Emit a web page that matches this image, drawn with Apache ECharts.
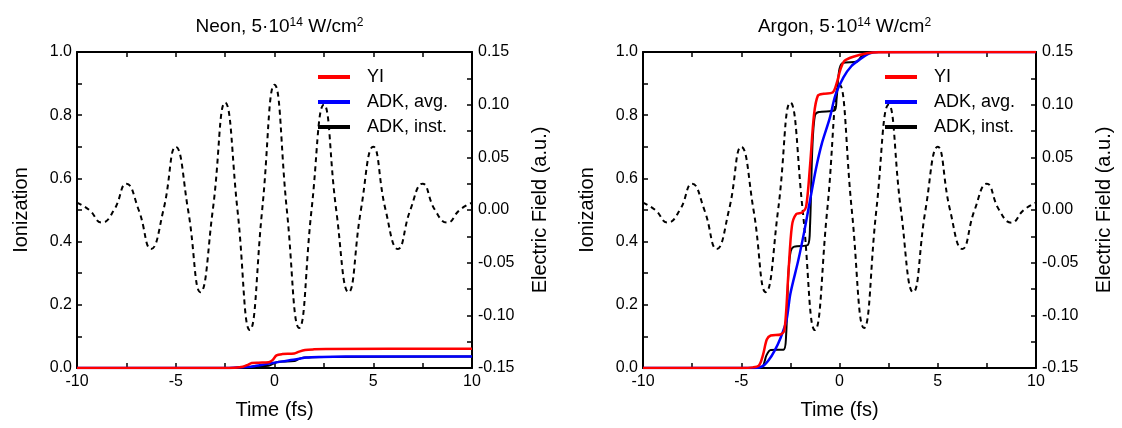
<!DOCTYPE html>
<html>
<head>
<meta charset="utf-8">
<script src="https://cdn.jsdelivr.net/npm/echarts@6/dist/echarts.min.js"></script>
<style>
  html, body { margin: 0; padding: 0; background: #ffffff; }
  #chart { width: 1122px; height: 428px; }
</style>
</head>
<body>
<div id="chart"></div>
<script>
// Panel titles and legend entries
const panelGas = ['Neon', 'Argon'];
const seriesNames = ['YI', 'ADK, avg.', 'ADK, inst.'];

// Axis ranges / tick spacing
const timeRange = [-10, 10, 5];
const ionRange = [0, 1, 0.2];
const fieldRange = [-0.15, 0.15, 0.05];

// Laser electric field (a.u.) vs time (fs), same pulse in both panels
const fieldTime = [-10, -9.375, -8.75, -8.125, -7.5, -6.875, -6.25, -5.625, -5, -4.375, -3.75, -3.125,
  -2.5, -1.875, -1.25, -0.625, 0, 0.625, 1.25, 1.875, 2.5, 3.125, 3.75, 4.375, 5, 5.625, 6.25, 6.875,
  7.5, 8.125, 8.75, 9.375, 10];
const fieldValue = [0.007, 0, -0.012, 0, 0.025, 0, -0.037, 0, 0.060, 0, -0.078, 0,
  0.102, 0, -0.114, 0, 0.119, 0, -0.112, 0, 0.100, 0, -0.078, 0, 0.060, 0, -0.037, 0,
  0.025, 0, -0.012, 0, 0.007];

// Neon ionization [time, fraction]
const neonYI = [[-10, 0], [-2.6, 0], [-2.0, 0.001], [-1.6, 0.004], [-1.35, 0.010], [-1.15, 0.016],
  [-0.8, 0.017], [-0.3, 0.018], [-0.1, 0.025], [0.1, 0.040], [0.4, 0.044], [1.0, 0.046],
  [1.25, 0.052], [1.55, 0.057], [2.0, 0.059], [2.6, 0.060], [10, 0.061]];
const neonAvg = [[-10, 0], [-2.4, 0], [-1.8, 0.002], [-1.1, 0.005], [-0.6, 0.010], [-0.1, 0.016],
  [0.4, 0.021], [0.95, 0.026], [1.6, 0.033], [2.4, 0.035], [3.6, 0.036], [10, 0.036]];
const neonInst = [[-10, 0], [-1.6, 0], [-1.25, 0.003], [-1.0, 0.006], [-0.3, 0.007], [-0.05, 0.014],
  [0.2, 0.020], [1.0, 0.022], [1.25, 0.029], [1.5, 0.033], [2.5, 0.035], [10, 0.036]];

// Argon ionization [time, fraction]
const argonYI = [[-10, 0], [-5.0, 0], [-4.4, 0.002], [-4.1, 0.008], [-3.9, 0.04], [-3.7, 0.09],
  [-3.5, 0.103], [-3.0, 0.106], [-2.8, 0.12], [-2.6, 0.30], [-2.42, 0.45], [-2.2, 0.487],
  [-1.9, 0.492], [-1.7, 0.51], [-1.5, 0.64], [-1.3, 0.80], [-1.1, 0.862], [-0.8, 0.868],
  [-0.35, 0.872], [-0.15, 0.90], [0.05, 0.945], [0.25, 0.972], [0.7, 0.985], [1.4, 0.996],
  [2.0, 0.999], [10, 1.0]];
const argonAvg = [[-10, 0], [-4.3, 0], [-3.9, 0.006], [-3.6, 0.025], [-3.3, 0.055], [-3.0, 0.095],
  [-2.7, 0.15], [-2.5, 0.235], [-2.1, 0.34], [-1.8, 0.43], [-1.5, 0.53], [-1.2, 0.63],
  [-0.9, 0.71], [-0.5, 0.79], [-0.2, 0.865], [0.2, 0.92], [0.6, 0.955], [1.0, 0.975],
  [1.5, 0.995], [2.0, 1.0], [10, 1.0]];
const argonInst = [[-10, 0], [-4.2, 0], [-3.9, 0.006], [-3.72, 0.04], [-3.5, 0.057], [-2.85, 0.058],
  [-2.72, 0.10], [-2.6, 0.30], [-2.48, 0.37], [-2.3, 0.384], [-1.6, 0.39], [-1.5, 0.45],
  [-1.38, 0.70], [-1.25, 0.80], [-1.05, 0.81], [-0.25, 0.815], [-0.15, 0.85], [-0.02, 0.94],
  [0.15, 0.965], [0.9, 0.97], [1.1, 0.985], [1.4, 0.997], [2.0, 1.0], [10, 1.0]];

const ionData = [[neonYI, neonAvg, neonInst], [argonYI, argonAvg, argonInst]];
const lineColors = ['#ff0000', '#0000ff', '#000000'];

const FONT = "'Liberation Sans', Arial, Helvetica, sans-serif";
const grids = [
  { left: 77, top: 52, width: 395, height: 316 },
  { left: 643, top: 52, width: 393, height: 316 }
];

const tickStyle = { show: true, inside: true, length: 5, lineStyle: { color: '#000', width: 1.5 } };
const minorStyle = { show: true, splitNumber: 2, length: 5, lineStyle: { color: '#000', width: 1.5 } };
const lineAxis = { show: true, onZero: false, lineStyle: { color: '#000', width: 2 } };
const labelStyle = { color: '#000', fontSize: 16, fontFamily: FONT };
const nameStyle = { color: '#000', fontSize: 20, fontFamily: FONT };

const xAxis = [], yAxis = [], series = [], title = [], legend = [];

grids.forEach((g, gi) => {
  const center = g.left + g.width / 2;
  title.push({
    text: '{n|' + panelGas[gi] + ', 5·10}{s|14}{n| W/cm}{s|2}',
    left: center, top: 12, textAlign: 'center',
    textStyle: {
      fontWeight: 'normal',
      rich: {
        n: { fontSize: 19, fontFamily: FONT, color: '#000', fontWeight: 'normal' },
        s: { fontSize: 12, fontFamily: FONT, color: '#000', fontWeight: 'normal', verticalAlign: 'top' }
      }
    }
  });
  // bottom time axis
  xAxis.push({
    type: 'value', gridIndex: gi, position: 'bottom',
    min: timeRange[0], max: timeRange[1], interval: timeRange[2],
    axisLine: lineAxis, axisTick: tickStyle, minorTick: minorStyle,
    splitLine: { show: false },
    axisLabel: Object.assign({ margin: 6 }, labelStyle),
    name: 'Time (fs)', nameLocation: 'middle', nameGap: 32, nameTextStyle: nameStyle
  });
  // top mirror axis
  xAxis.push({
    type: 'value', gridIndex: gi, position: 'top',
    min: timeRange[0], max: timeRange[1], interval: timeRange[2],
    axisLine: lineAxis, axisTick: tickStyle, minorTick: minorStyle,
    splitLine: { show: false }, axisLabel: { show: false }
  });
  // ionization axis
  yAxis.push({
    type: 'value', gridIndex: gi, position: 'left',
    min: ionRange[0], max: ionRange[1], interval: ionRange[2],
    axisLine: lineAxis, axisTick: tickStyle, minorTick: minorStyle,
    splitLine: { show: false },
    axisLabel: Object.assign({ margin: 5, formatter: v => v.toFixed(1) }, labelStyle),
    name: 'Ionization', nameLocation: 'middle', nameRotate: 90, nameGap: 46, nameTextStyle: nameStyle
  });
  // electric field axis
  yAxis.push({
    type: 'value', gridIndex: gi, position: 'right',
    min: fieldRange[0], max: fieldRange[1], interval: fieldRange[2],
    axisLine: lineAxis, axisTick: tickStyle, minorTick: minorStyle,
    splitLine: { show: false },
    axisLabel: Object.assign({ margin: 6, formatter: v => v.toFixed(2) }, labelStyle),
    name: 'Electric Field (a.u.)', nameLocation: 'middle', nameRotate: 90, nameGap: 58, nameTextStyle: nameStyle
  });

  // dashed field trace
  series.push({
    type: 'line', name: 'field', xAxisIndex: gi * 2, yAxisIndex: gi * 2 + 1,
    data: fieldTime.map((t, i) => [t, fieldValue[i]]),
    smooth: 0.5, showSymbol: false, silent: true,
    lineStyle: { color: '#000', width: 2, type: [5, 4] }, z: 2
  });
  // ionization traces: inst. below avg. below YI
  [2, 1, 0].forEach(k => {
    series.push({
      type: 'line', name: seriesNames[k], xAxisIndex: gi * 2, yAxisIndex: gi * 2,
      data: ionData[gi][k], smooth: 0.3, showSymbol: false,
      lineStyle: { color: lineColors[k], width: k === 2 ? 2 : 2.5 },
      itemStyle: { color: lineColors[k] }, z: 3 + (2 - k)
    });
  });

  legend.push({
    data: seriesNames, orient: 'vertical',
    left: gi === 0 ? 313 : 880, top: 63,
    icon: 'rect', itemWidth: 32, itemHeight: 4, itemGap: 7,
    selectedMode: false,
    textStyle: { color: '#000', fontSize: 18, fontFamily: FONT, padding: [0, 0, 0, 12] }
  });
});

const chart = echarts.init(document.getElementById('chart'), null, { renderer: 'canvas' });
chart.setOption({
  animation: false,
  backgroundColor: '#ffffff',
  title, legend,
  grid: grids,
  xAxis, yAxis, series
});
</script>
</body>
</html>
